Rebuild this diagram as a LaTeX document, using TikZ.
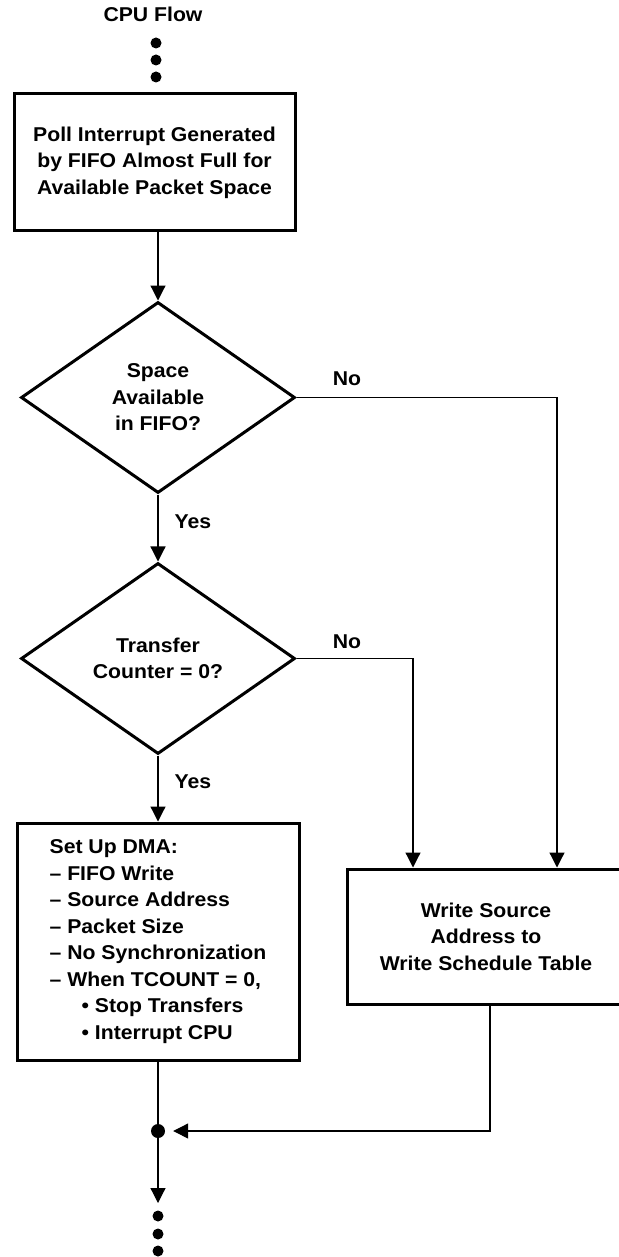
\documentclass[tikz,border=0pt]{standalone}
\usepackage{fontspec}
\setmainfont{Liberation Sans}[FakeStretch=1.06]
\usetikzlibrary{arrows.meta,shapes.geometric,positioning}
\newcommand{\flowfont}{\fontsize{20}{26.5}\selectfont\bfseries}

\begin{document}
\begin{tikzpicture}[x=1pt,y=-1pt,
    box/.style={rectangle,draw,line width=3pt,align=center,font=\flowfont},
    decision/.style={diamond,draw,line width=3pt,minimum width=274pt,minimum height=191pt,inner sep=0pt,align=center,font=\flowfont},
    tag/.style={font=\flowfont},
    arrow/.style={-{Triangle[length=15pt,width=15pt]},line width=1.2pt},
    wire/.style={line width=1.2pt},
    dot/.style={circle,fill,inner sep=0pt,minimum size=11pt}
]
    \useasboundingbox (0,0) rectangle (618,1257);

    % Entry: CPU flow continues from above
    \node[tag] (title) at (153,14) {CPU Flow};
    \foreach \y [count=\i] in {43,60,77}
        \node[dot] (top\i) at (156,\y) {};

    % Poll the interrupt
    \node[box,minimum width=281pt,minimum height=137pt] (poll) at (154.5,162.5)
        {Poll Interrupt Generated\\by FIFO Almost Full for\\Available Packet Space};

    % Decision 1: space in FIFO
    \node[decision] (space) at (158,397.5) {Space\\Available\\in FIFO?};
    \draw[arrow] (space.north |- poll.south) -- (space.north);
    \node[tag] (no1) at (347,379) {No};
    \node[tag] (yes1) at (193,522) {Yes};

    % Decision 2: transfer counter
    \node[decision] (xfer) at (158,658.5) {Transfer\\Counter = 0?};
    \draw[arrow] (space) -- (xfer);
    \node[tag] (no2) at (347,642) {No};
    \node[tag] (yes2) at (193,782) {Yes};

    % Yes branch: DMA setup
    \node[box,minimum width=282pt,minimum height=237pt,align=left] (dma) at (158,941.5)
        {Set Up DMA:\\
         -- FIFO Write\\
         -- Source Address\\
         -- Packet Size\\
         -- No Synchronization\\
         -- When TCOUNT = 0,\\
         \hspace*{32pt}\textbullet{} Stop Transfers\\
         \hspace*{32pt}\textbullet{} Interrupt CPU};
    \draw[arrow] (xfer) -- (dma);

    % No branches: schedule table
    \node[box,minimum width=278pt,minimum height=135pt] (wsched) at (486,936.5)
        {Write Source\\Address to\\Write Schedule Table};
    \draw[arrow] (space.east) -| ([xshift=71pt]wsched.north);
    \draw[arrow] (xfer.east) -| ([xshift=-73pt]wsched.north);

    % Merge and exit
    \node[dot,minimum size=14pt] (junc) at (158,1131) {};
    \draw[wire] (dma) -- (junc);
    \draw[arrow,shorten >=8pt] ([xshift=4pt]wsched.south) |- (junc);
    \coordinate (out) at (158,1203);
    \draw[arrow] (junc) -- (out);
    \foreach \y [count=\i] in {1216,1234,1251}
        \node[dot] (bot\i) at (158,\y) {};
\end{tikzpicture}
\end{document}
